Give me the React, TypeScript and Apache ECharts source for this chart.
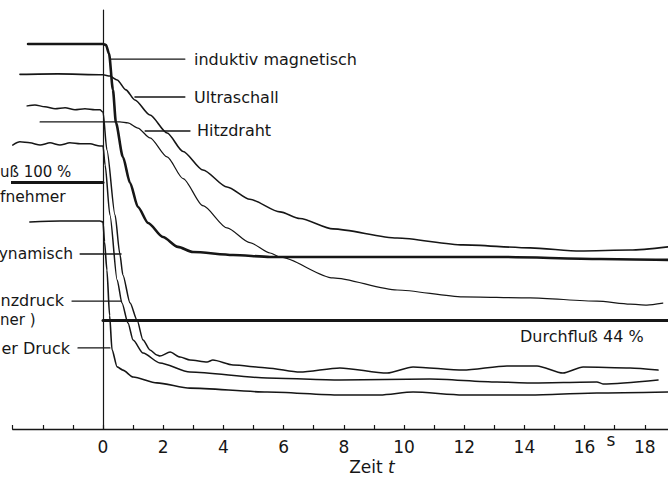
import React, { useEffect, useRef } from "react";
import * as echarts from "echarts";

// Time axis (s)
const xTicksMin = -3;
const xTicksMax = 19;
const xLabelValues = [0, 2, 4, 6, 8, 10, 12, 14, 16, 18];

// Curves: [time in s, flow level in %] (curves are drawn vertically offset as in the original)
const induktivMagnetisch: number[][] = [
  [-2.49, 156.2], [0, 156.2], [0.1, 155.8], [0.2, 152.3], [0.33, 137.6], [0.43, 124.2],
  [0.66, 110.4], [0.9, 99.8], [1.16, 90.1], [1.5, 83.6], [1.99, 77.9], [2.49, 73.9],
  [2.99, 71.8], [4.32, 70.6], [5.55, 69.8], [6.54, 69.8], [9.87, 69.8], [13.19, 69.8],
  [16.51, 69.0], [18.77, 68.6],
];

const ultraschall: number[][] = [
  [-2.76, 143.9], [-1.5, 144.1], [0, 143.7], [0.23, 143.2], [0.47, 141.6], [0.76, 137.6],
  [1.06, 133.5], [1.56, 127.4], [2.13, 120.1], [2.66, 112.6], [3.32, 105.1], [4.12, 98.2],
  [4.88, 93.2], [5.88, 88.1], [6.54, 85.4], [7.64, 81.2], [9.77, 77.5], [11.96, 74.7],
  [14.19, 73.5], [15.85, 72.2], [17.51, 72.6], [18.77, 73.9],
];

const hitzdraht: number[][] = [
  [-2.09, 124.6], [0, 124.6], [0.56, 124.6], [0.83, 124.2], [1.16, 122.1], [1.56, 118.1],
  [2.13, 110.4], [2.66, 101.6], [3.32, 90.6], [4.12, 81.6], [4.88, 75.6], [5.55, 71.4],
  [5.88, 69.8], [7.64, 61.3], [9.77, 56.4], [11.96, 53.6], [14.19, 53.2], [16.41, 51.9],
  [17.51, 50.7], [18.07, 50.3], [18.6, 51.1],
];

const dynamisch: number[][] = [
  [-2.52, 131.1], [-2.26, 131.5], [-1.93, 130.7], [-1.59, 129.9], [-1.26, 130.3],
  [-0.93, 129.5], [-0.6, 129.9], [-0.27, 129.5], [-0.1, 129.5],
  [0, 128.6], [0.13, 113.2], [0.4, 86.8], [0.56, 71.0], [0.66, 62.5], [0.9, 51.1],
  [1.13, 44.2], [1.33, 36.1], [1.56, 32.1], [1.79, 30.0], [1.89, 29.6], [2.23, 31.2],
  [2.56, 29.2], [2.89, 28.0], [3.46, 27.2], [3.65, 28.0], [4.32, 26.0], [5.45, 24.8],
  [6.54, 23.1], [7.87, 24.8], [9.44, 22.7], [10.3, 25.2], [11.96, 23.9], [13.42, 25.6],
  [14.42, 25.6], [15.28, 22.7], [15.95, 25.2], [17.51, 24.8], [18.44, 23.9],
];

const differenzdruck: number[][] = [
  [-3.0, 115.2], [-2.76, 116.5], [-2.43, 116.1], [-2.09, 115.2], [-1.76, 116.1],
  [-1.43, 115.2], [-1.1, 116.1], [-0.76, 115.7], [-0.43, 115.7], [-0.1, 114.8],
  [0, 114.8], [0.07, 107.1], [0.23, 86.8], [0.47, 60.5], [0.63, 51.1], [0.83, 43.0],
  [1.0, 36.1], [1.33, 30.8], [1.89, 26.8], [2.89, 23.1], [5.45, 20.7], [7.87, 19.9],
  [10.86, 20.3], [13.09, 19.1], [14.19, 18.7], [16.41, 19.1], [16.61, 18.3], [18.44, 19.9],
];

const druck: number[][] = [
  [-2.43, 84.0], [-1.43, 84.4], [-0.1, 84.4], [0, 84.0],
  [0.05, 76.0], [0.13, 64.5], [0.22, 46.0], [0.3, 32.1], [0.47, 25.2], [0.66, 23.9],
  [1.0, 21.1], [1.79, 18.7], [2.89, 16.6], [5.45, 15.0], [7.87, 13.8], [9.2, 13.8],
  [10.3, 15.0], [11.96, 13.8], [14.19, 13.8], [16.41, 14.6], [18.77, 15.0],
];

const durchfluss100: number[][] = [[-3.42, 100], [0, 100]];
const durchfluss44: number[][] = [[0, 44], [18.77, 44]];

// Leader lines from the curves to their labels
const leaderInduktiv: number[][] = [[0.23, 150.1], [2.72, 150.1]];
const leaderUltraschall: number[][] = [[1.06, 134.7], [2.72, 134.7]];
const leaderHitzdraht: number[][] = [[1.4, 120.9], [2.89, 120.9]];
const leaderDynamisch: number[][] = [[-0.76, 71.0], [0.6, 71.0]];
const leaderDifferenz: number[][] = [[-1.03, 51.9], [0.6, 51.9]];
const leaderDruck: number[][] = [[-0.83, 32.9], [0.23, 32.9]];

const INK = "#161616";
const FONT = "DejaVu Sans";

export default function App() {
  const ref = useRef<HTMLDivElement>(null);

  useEffect(() => {
    if (!ref.current) return;
    const chart = echarts.init(ref.current, undefined, { renderer: "svg" });

    const curve = (name: string, data: number[][], width: number, smooth: number | boolean = 0.25, clip = true) => ({
      name,
      type: "line",
      data,
      symbol: "none",
      showSymbol: false,
      smooth,
      smoothMonotone: "x",
      clip,
      silent: true,
      lineStyle: { color: INK, width, cap: "round", join: "round" },
      emphasis: { disabled: true },
    });

    const text = (t: string, x: number, y: number, align: string, size = 16, rich?: any) => ({
      type: "text",
      x,
      y,
      silent: true,
      style: {
        text: t,
        fill: INK,
        fontFamily: FONT,
        fontSize: size,
        align,
        verticalAlign: "middle",
        rich,
      },
    });

    chart.setOption({
      animation: false,
      backgroundColor: "#ffffff",
      grid: {
        left: 12.7,
        width: 662.2,
        top: 10,
        height: 419,
        containLabel: false,
        outerBoundsMode: "none",
      },
      xAxis: {
        type: "value",
        min: xTicksMin,
        max: xTicksMax,
        interval: 1,
        axisLine: { show: true, onZero: false, lineStyle: { color: INK, width: 1.4 } },
        axisTick: { show: true, inside: true, length: 4, lineStyle: { color: INK, width: 1.2 } },
        splitLine: { show: false },
        axisLabel: {
          color: INK,
          fontFamily: FONT,
          fontSize: 17,
          margin: 9,
          showMinLabel: true,
          showMaxLabel: true,
          formatter: (v: number) => (xLabelValues.includes(Math.round(v)) && Math.abs(v - Math.round(v)) < 1e-6 ? String(Math.round(v)) : ""),
        },
      },
      yAxis: {
        type: "value",
        min: 0,
        max: 170,
        axisLine: { show: true, onZero: true, lineStyle: { color: INK, width: 1.2 } },
        axisTick: { show: false },
        axisLabel: { show: false },
        splitLine: { show: false },
      },
      series: [
        curve("Durchfluß 100 %", durchfluss100, 3, false, false),
        curve("Durchfluß 44 %", durchfluss44, 3, false),
        curve("induktiv magnetisch", induktivMagnetisch, 2.6),
        curve("Ultraschall", ultraschall, 1.6),
        curve("Hitzdraht", hitzdraht, 1.2),
        curve("dynamisch", dynamisch, 1.5),
        curve("Differenzdruck", differenzdruck, 1.5),
        curve("Druck", druck, 1.6),
        curve("l1", leaderInduktiv, 1.3, false),
        curve("l2", leaderUltraschall, 1.3, false),
        curve("l3", leaderHitzdraht, 1.3, false),
        curve("l4", leaderDynamisch, 1.3, false),
        curve("l5", leaderDifferenz, 1.3, false),
        curve("l6", leaderDruck, 1.3, false),
      ],
      graphic: [
        text("induktiv magnetisch", 194, 59, "left"),
        text("Ultraschall", 194, 97, "left"),
        text("Hitzdraht", 197, 130, "left"),
        text("uß 100 %", 0, 172, "left", 15),
        text("fnehmer", 0, 197, "left", 15.5),
        text("ynamisch", 73, 254, "right", 15.5),
        text("nzdruck", 64, 300, "right"),
        text("ner )", 0, 320, "left", 15),
        text("er Druck", 70, 348, "right"),
        text("Durchfluß 44 %", 520, 336, "left"),
        text("s", 611, 440, "center", 17),
        text("Zeit {i|t}", 372, 467, "center", 17, {
          i: { fontFamily: FONT, fontSize: 17, fontStyle: "italic", fill: INK },
        }),
      ],
    });

    return () => chart.dispose();
  }, []);

  return (
    <div
      ref={ref}
      style={{ position: "fixed", left: 0, top: 0, width: 668, height: 479, background: "#fff" }}
    />
  );
}
